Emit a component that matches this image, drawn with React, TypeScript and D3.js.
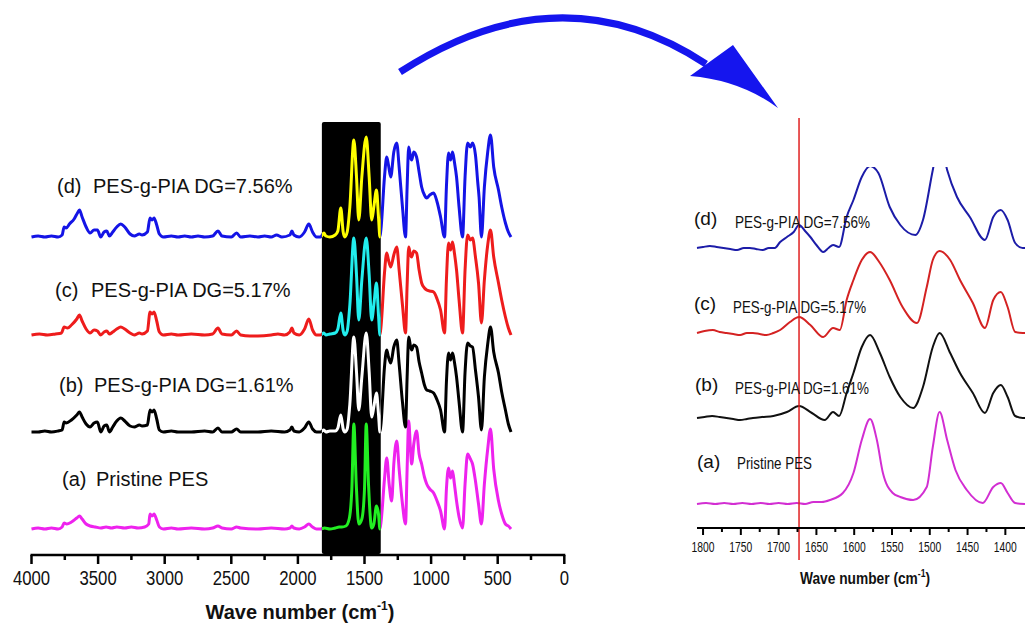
import React from "react";
import * as d3 from "d3";

type Pt = [number, number];

// ---------- Left panel (full range) : [wavenumber, relative intensity] ----------
const leftTicksMajor = [4000, 3500, 3000, 2500, 2000, 1500, 1000, 500, 0];
const leftTicksMinor = [3750, 3250, 2750, 2250, 1750, 1250, 750, 250];

const lowD: Pt[] = [[4000,0],[3950,0.01],[3900,0],[3850,0.01],[3800,0.0],[3770,0.02],[3755,0.1],[3740,0.09],[3715,0.13],[3680,0.18],[3655,0.24],[3640,0.27],[3620,0.2],[3590,0.1],[3560,0.04],[3530,0.07],[3505,0.07],[3480,0.0],[3455,0.05],[3435,0.06],[3415,0.01],[3390,0.05],[3360,0.1],[3330,0.13],[3300,0.1],[3260,0.03],[3228,0.01],[3190,0.03],[3170,0.02],[3130,0.05],[3110,0.19],[3095,0.17],[3080,0.19],[3060,0.12],[3040,0.03],[3010,0.0],[2950,0.01],[2900,0.0],[2850,0.01],[2800,0.0],[2750,0.01],[2700,0.0],[2640,0.01],[2600,0.06],[2570,0.01],[2500,0.0],[2460,0.04],[2430,0.0],[2360,0.01],[2300,0.0],[2250,0.01],[2200,0.0],[2160,0.02],[2120,0.0],[2060,0.02],[2045,0.06],[2030,0.02],[1990,0.0],[1950,0.05],[1918,0.13],[1890,0.05],[1860,0.0]];
const midD: Pt[] = [[1830,0.0],[1805,0.04],[1790,0.01],[1760,0.0],[1720,0.02],[1700,0.06],[1678,0.29],[1660,0.05],[1648,0.0],[1630,0.05],[1610,0.3],[1580,0.97],[1560,0.6],[1543,0.17],[1520,0.6],[1487,1.0],[1465,0.6],[1446,0.17],[1430,0.3],[1410,0.47],[1395,0.2],[1384,0.0]];
const highD: Pt[] = [[1375,0.1],[1350,0.6],[1333,0.8],[1320,0.72],[1303,0.6],[1280,0.85],[1258,0.94],[1240,0.7],[1215,0.3],[1192,0.0],[1180,0.5],[1168,0.9],[1155,0.8],[1146,0.77],[1130,0.85],[1109,0.8],[1090,0.65],[1071,0.5],[1050,0.42],[1033,0.39],[1010,0.42],[981,0.44],[955,0.35],[929,0.2],[899,0.0],[885,0.5],[869,0.84],[854,0.77],[839,0.85],[825,0.75],[809,0.6],[790,0.3],[764,0.0],[745,0.6],[726,0.94],[705,0.9],[689,0.94],[667,0.82],[650,0.55],[640,0.4],[622,0.0],[600,0.5],[575,0.85],[554,1.02],[530,0.7],[494,0.47],[470,0.3],[442,0.14],[420,0.05],[400,0.0]];

const lowC: Pt[] = [[4000,0],[3940,0.01],[3880,0],[3820,0.01],[3775,0.02],[3755,0.08],[3730,0.07],[3700,0.1],[3660,0.16],[3640,0.2],[3620,0.14],[3590,0.06],[3560,0.02],[3530,0.05],[3505,0.04],[3480,0.0],[3455,0.03],[3435,0.04],[3415,0.01],[3390,0.03],[3360,0.06],[3330,0.08],[3300,0.06],[3260,0.02],[3228,0.0],[3190,0.02],[3170,0.01],[3130,0.04],[3110,0.23],[3095,0.21],[3080,0.23],[3060,0.14],[3040,0.03],[3010,0.0],[2950,0.01],[2900,0.0],[2800,0.01],[2700,0.0],[2640,0.01],[2600,0.07],[2570,0.01],[2500,0.0],[2460,0.04],[2430,0.0],[2360,-0.01],[2300,-0.01],[2200,0.0],[2150,0.01],[2100,0.0],[2060,0.03],[2045,0.07],[2030,0.02],[1990,0.0],[1950,0.06],[1918,0.16],[1890,0.05],[1860,0.0]];
const midC: Pt[] = [[1830,0.0],[1805,0.02],[1790,0.0],[1760,0.01],[1720,0.02],[1700,0.06],[1678,0.22],[1660,0.04],[1648,0.0],[1630,0.04],[1610,0.3],[1580,0.97],[1560,0.6],[1543,0.15],[1520,0.55],[1487,0.97],[1465,0.6],[1446,0.15],[1430,0.3],[1410,0.52],[1395,0.2],[1384,0.0]];
const highC: Pt[] = [[1375,0.1],[1350,0.62],[1333,0.82],[1320,0.75],[1303,0.68],[1280,0.8],[1258,0.88],[1240,0.65],[1215,0.3],[1192,0.02],[1180,0.5],[1168,0.88],[1155,0.8],[1146,0.78],[1130,0.84],[1109,0.82],[1090,0.65],[1071,0.52],[1050,0.47],[1033,0.45],[1010,0.44],[981,0.43],[955,0.36],[929,0.25],[899,0.02],[885,0.55],[869,0.92],[854,0.85],[839,0.93],[825,0.82],[809,0.65],[790,0.35],[764,0.02],[745,0.65],[726,1.0],[705,0.95],[689,0.97],[667,0.78],[644,0.52],[622,0.12],[600,0.55],[575,0.9],[554,1.05],[530,0.78],[494,0.52],[470,0.35],[442,0.18],[420,0.07],[400,0.0]];

const lowB: Pt[] = [[4000,0],[3950,0.0],[3900,0.01],[3850,0],[3800,0.01],[3770,0.02],[3755,0.1],[3740,0.09],[3700,0.12],[3660,0.17],[3640,0.2],[3620,0.15],[3590,0.08],[3560,0.05],[3530,0.09],[3505,0.1],[3480,0.0],[3455,0.06],[3435,0.07],[3415,0.0],[3390,0.05],[3360,0.11],[3330,0.14],[3300,0.11],[3260,0.06],[3228,0.05],[3190,0.07],[3170,0.06],[3130,0.07],[3110,0.22],[3095,0.2],[3080,0.22],[3060,0.13],[3040,0.02],[3010,0.0],[2950,0.01],[2900,0.0],[2800,0.0],[2700,0.01],[2640,0.0],[2600,0.04],[2570,0.0],[2500,0.0],[2460,0.03],[2430,0.0],[2300,0.0],[2200,0.01],[2100,0.0],[2060,0.02],[2045,0.05],[2030,0.01],[1990,0.0],[1950,0.04],[1918,0.1],[1890,0.03],[1860,0.0]];
const midB: Pt[] = [[1830,0.0],[1805,0.02],[1790,0.0],[1760,0.01],[1720,0.01],[1700,0.04],[1678,0.17],[1660,0.03],[1648,0.0],[1630,0.03],[1610,0.28],[1580,0.95],[1560,0.6],[1543,0.22],[1520,0.55],[1487,0.99],[1465,0.6],[1446,0.15],[1430,0.25],[1410,0.39],[1395,0.18],[1384,0.0]];
const highB: Pt[] = [[1375,0.1],[1350,0.65],[1333,0.82],[1320,0.75],[1303,0.69],[1280,0.85],[1258,0.92],[1240,0.68],[1215,0.3],[1192,0.05],[1180,0.55],[1168,0.95],[1155,0.86],[1146,0.82],[1130,0.87],[1109,0.85],[1090,0.7],[1071,0.59],[1050,0.47],[1033,0.42],[1010,0.41],[981,0.39],[955,0.32],[929,0.22],[899,0.0],[885,0.5],[869,0.79],[854,0.72],[839,0.79],[825,0.7],[809,0.55],[790,0.3],[764,0.0],[745,0.6],[726,0.89],[705,0.86],[689,0.85],[667,0.62],[644,0.35],[622,0.02],[600,0.55],[575,0.88],[554,1.05],[530,0.8],[494,0.59],[470,0.4],[442,0.22],[420,0.08],[400,0.0]];

const lowA: Pt[] = [[4000,0],[3950,0.01],[3900,0.0],[3850,0.01],[3800,0.0],[3770,0.02],[3755,0.06],[3735,0.05],[3700,0.07],[3660,0.11],[3640,0.13],[3620,0.1],[3590,0.05],[3560,0.03],[3520,0.02],[3480,0.01],[3440,0.02],[3400,0.01],[3360,0.02],[3300,0.01],[3250,0.02],[3200,0.01],[3150,0.02],[3120,0.05],[3110,0.15],[3095,0.13],[3080,0.15],[3060,0.09],[3040,0.02],[3010,0.0],[2950,0.01],[2900,0.0],[2800,0.01],[2700,0.0],[2640,0.01],[2600,0.03],[2570,0.01],[2500,0.0],[2460,0.02],[2430,0.01],[2300,0.0],[2200,0.01],[2100,0.0],[2060,0.01],[2045,0.03],[2030,0.01],[1990,0.0],[1950,0.02],[1918,0.05],[1890,0.02],[1860,0.0]];
const midA: Pt[] = [[1830,0.0],[1800,0.01],[1760,0.0],[1720,0.01],[1690,0.02],[1670,0.02],[1640,0.03],[1615,0.1],[1595,0.4],[1580,1.05],[1562,0.45],[1543,0.05],[1520,0.1],[1500,0.4],[1487,1.05],[1470,0.45],[1446,0.01],[1430,0.05],[1410,0.23],[1395,0.15],[1384,0.0]];
const highA: Pt[] = [[1375,0.08],[1350,0.5],[1333,0.71],[1315,0.45],[1296,0.28],[1280,0.65],[1258,0.88],[1240,0.6],[1215,0.25],[1192,0.05],[1180,0.6],[1168,1.08],[1155,0.8],[1146,0.65],[1130,0.85],[1109,0.98],[1090,0.75],[1071,0.65],[1050,0.52],[1033,0.45],[1010,0.4],[981,0.36],[955,0.28],[929,0.18],[899,0.0],[885,0.4],[869,0.61],[854,0.51],[839,0.58],[825,0.45],[809,0.28],[790,0.12],[764,0.01],[745,0.45],[726,0.75],[705,0.7],[689,0.65],[667,0.48],[644,0.25],[622,0.05],[600,0.45],[575,0.8],[554,1.0],[530,0.6],[494,0.28],[470,0.15],[442,0.05],[420,0.03],[400,0.0]];

const leftOffsets = [0.26, 1.23, 2.2, 3.18];
const leftColors = ["#ee22ee", "#000000", "#ee1c1c", "#1414e6"];
const boxColors = ["#22ee22", "#ffffff", "#22eeee", "#ffff00"];
const leftLabelsTag = ["(a)", "(b)", "(c)", "(d)"];
const leftLabelsText = ["Pristine PES", "PES-g-PIA DG=1.61%", "PES-g-PIA DG=5.17%", "PES-g-PIA DG=7.56%"];
const boxRange = [1820, 1378];

// ---------- Right panel (zoom 1808-1374) ----------
const rightTicksMajor = [1800, 1750, 1700, 1650, 1600, 1550, 1500, 1450, 1400];
const rightTicksMinor = [1775, 1725, 1675, 1625, 1575, 1525, 1475, 1425];
const markerLine = 1673;

const zoomD: Pt[] = [[1808,0],[1800,0.01],[1791,0.02],[1782,0.01],[1773,0.0],[1764,-0.01],[1755,-0.02],[1746,0.0],[1738,0.0],[1730,-0.01],[1721,-0.02],[1713,0.0],[1705,0.0],[1698,0.06],[1689,0.11],[1680,0.16],[1673,0.23],[1665,0.17],[1658,0.11],[1650,0.03],[1641,-0.04],[1634,0.0],[1628,0.03],[1620,0.01],[1610,0.31],[1601,0.48],[1590,0.71],[1579,0.82],[1568,0.75],[1553,0.41],[1539,0.23],[1519,0.13],[1509,0.28],[1496,0.78],[1487,1.1],[1477,0.78],[1464,0.51],[1447,0.31],[1427,0.08],[1416,0.31],[1406,0.38],[1397,0.28],[1387,0.05],[1377,0.0],[1374,0.0]];
const zoomC: Pt[] = [[1808,0],[1798,0.02],[1787,0.03],[1778,0.01],[1769,0.0],[1760,-0.01],[1751,-0.02],[1742,0.0],[1734,0.0],[1725,-0.01],[1716,-0.02],[1707,0.0],[1698,0.03],[1685,0.11],[1673,0.16],[1658,0.08],[1641,-0.04],[1628,0.05],[1619,0.03],[1610,0.33],[1601,0.53],[1590,0.73],[1579,0.81],[1566,0.7],[1553,0.53],[1536,0.26],[1517,0.1],[1504,0.46],[1496,0.73],[1487,0.82],[1473,0.73],[1460,0.53],[1443,0.3],[1427,0.05],[1416,0.33],[1406,0.41],[1397,0.26],[1387,0.01],[1377,0.0],[1374,0.0]];
const zoomB: Pt[] = [[1808,0],[1798,0.01],[1788,0.02],[1778,0.01],[1769,0.0],[1760,-0.01],[1751,-0.02],[1742,-0.01],[1734,0.0],[1722,0.01],[1707,0.02],[1689,0.06],[1673,0.12],[1656,0.05],[1639,-0.02],[1628,0.06],[1620,0.02],[1610,0.25],[1601,0.45],[1590,0.71],[1579,0.83],[1566,0.65],[1553,0.41],[1539,0.21],[1522,0.1],[1509,0.31],[1496,0.71],[1487,0.85],[1473,0.65],[1460,0.45],[1443,0.25],[1427,0.05],[1416,0.25],[1406,0.33],[1397,0.21],[1387,0.02],[1377,0.0],[1374,0.0]];
const zoomA: Pt[] = [[1808,0],[1796,0.01],[1784,0.0],[1772,0.01],[1760,0.0],[1748,0.01],[1736,0.0],[1724,0.01],[1712,0.0],[1700,0.01],[1688,0.0],[1676,0.01],[1665,0.0],[1654,0.02],[1643,0.02],[1632,0.04],[1615,0.11],[1601,0.31],[1590,0.64],[1579,0.85],[1570,0.64],[1562,0.31],[1549,0.11],[1539,0.07],[1522,0.04],[1504,0.17],[1496,0.57],[1487,0.92],[1477,0.64],[1466,0.34],[1451,0.14],[1430,0.01],[1416,0.17],[1406,0.21],[1397,0.11],[1387,0.01],[1374,0.0]];
const rightOffsets = [0.24, 1.1, 1.95, 2.8];
const rightColors = ["#d22ed2", "#111111", "#d42222", "#1c1ca8"];

const leftSeries = [
  [...lowA, ...midA, ...highA],
  [...lowB, ...midB, ...highB],
  [...lowC, ...midC, ...highC],
  [...lowD, ...midD, ...highD],
];
const rightSeries = [zoomA, zoomB, zoomC, zoomD];

const W = 1025, H = 627;
const FONT = "'Liberation Sans', Arial, Helvetica, sans-serif";

export default function App() {
  const xL = d3.scaleLinear().domain([4000, 0]).range([31.5, 564.3]);
  const yL = d3.scaleLinear().domain([0, 4.4]).range([555, 115]);
  const xR = d3.scaleLinear().domain([1808, 1374]).range([697, 1025]);
  const yR = d3.scaleLinear().domain([0, 4]).range([528, 128]);

  const lineL = (off: number) =>
    d3.line<Pt>().x((d) => xL(d[0])).y((d) => yL(d[1] + off)).curve(d3.curveMonotoneX);
  const lineR = (off: number) =>
    d3.line<Pt>().x((d) => xR(d[0])).y((d) => yR(d[1] + off)).curve(d3.curveMonotoneX);

  const axisYL = yL(0);
  const axisYR = yR(0);
  const boxX0 = xL(boxRange[0]);
  const boxX1 = xL(boxRange[1]);

  const labelPosL = [
    { tx: 62, px: 96, y: 486 },
    { tx: 59, px: 94, y: 392 },
    { tx: 55, px: 91, y: 297 },
    { tx: 57, px: 93, y: 193 },
  ];
  const labelPosR = [
    { tx: 697, px: 737, yt: 468, yp: 469, w: 75 },
    { tx: 695, px: 735, yt: 391, yp: 394, w: 134 },
    { tx: 694, px: 733, yt: 310, yp: 313, w: 133 },
    { tx: 694, px: 735, yt: 225, yp: 228, w: 135 },
  ];

  return (
    <svg width={W} height={H} style={{ position: "absolute", left: 0, top: 0, background: "#fff" }} fontFamily={FONT}>
      <defs>
        <clipPath id="boxclip">
          <rect x={boxX0} y={120} width={boxX1 - boxX0} height={axisYL - 121} />
        </clipPath>
        <clipPath id="rclip">
          <rect x={690} y={167} width={340} height={380} />
        </clipPath>
      </defs>
      <rect width={W} height={H} fill="#fff" />

      {/* Left spectra */}
      {leftSeries.map((s, i) => (
        <path key={"l" + i} d={lineL(leftOffsets[i])(s) || ""} fill="none" stroke={leftColors[i]} strokeWidth={3} strokeLinejoin="round" />
      ))}
      <rect x={boxX0} y={122} width={boxX1 - boxX0} height={axisYL - 123} rx={2} fill="#000" />
      <g clipPath="url(#boxclip)">
        {leftSeries.map((s, i) => (
          <path key={"b" + i} d={lineL(leftOffsets[i])(s) || ""} fill="none" stroke={boxColors[i]} strokeWidth={3} strokeLinejoin="round" />
        ))}
      </g>

      {/* Left axis */}
      <line x1={xL(4000) - 1} x2={xL(0) + 1} y1={axisYL} y2={axisYL} stroke="#000" strokeWidth={2.5} />
      {leftTicksMajor.map((t) => (
        <g key={"lt" + t}>
          <line x1={xL(t)} x2={xL(t)} y1={axisYL} y2={axisYL + 9} stroke="#000" strokeWidth={2.5} />
          <text x={xL(t)} y={585} fontSize={20} textAnchor="middle" fill="#111"
            textLength={String(t).length * 9.3} lengthAdjust="spacingAndGlyphs">{t}</text>
        </g>
      ))}
      {leftTicksMinor.map((t) => (
        <line key={"lm" + t} x1={xL(t)} x2={xL(t)} y1={axisYL} y2={axisYL + 5} stroke="#000" strokeWidth={2.5} />
      ))}
      <text x={300} y={619} fontSize={20} fontWeight="bold" textAnchor="middle" fill="#111">
        Wave number (cm<tspan fontSize={12} dy={-9}>-1</tspan><tspan dy={9}>)</tspan>
      </text>

      {/* Left labels */}
      {leftLabelsTag.map((tag, i) => (
        <g key={"ll" + i} fontSize={20} fill="#111">
          <text x={labelPosL[i].tx} y={labelPosL[i].y}>{tag}</text>
          <text x={labelPosL[i].px} y={labelPosL[i].y}>{leftLabelsText[i]}</text>
        </g>
      ))}

      {/* Arrow */}
      <path d="M400,72 Q560,-32 706,64" fill="none" stroke="#1515ee" strokeWidth={7} />
      <path d="M733,45 L690,76 Q740,80 778,108 Z" fill="#1515ee" />

      {/* Right spectra */}
      <g clipPath="url(#rclip)">
        {rightSeries.map((s, i) => (
          <path key={"r" + i} d={lineR(rightOffsets[i])(s) || ""} fill="none" stroke={rightColors[i]} strokeWidth={2} strokeLinejoin="round" />
        ))}
      </g>
      <line x1={xR(markerLine)} x2={xR(markerLine)} y1={118} y2={560} stroke="#e02020" strokeWidth={1.5} />

      {/* Right labels */}
      {leftLabelsTag.map((tag, i) => (
        <g key={"rl" + i} fill="#111">
          <text x={labelPosR[i].tx} y={labelPosR[i].yt} fontSize={19}>{tag}</text>
          <text x={labelPosR[i].px} y={labelPosR[i].yp} fontSize={17} textLength={labelPosR[i].w} lengthAdjust="spacingAndGlyphs">{leftLabelsText[i]}</text>
        </g>
      ))}

      {/* Right axis */}
      <line x1={xR(1808)} x2={W} y1={axisYR} y2={axisYR} stroke="#000" strokeWidth={2} />
      {rightTicksMajor.map((t) => (
        <g key={"rt" + t}>
          <line x1={xR(t)} x2={xR(t)} y1={axisYR} y2={axisYR + 7} stroke="#000" strokeWidth={2} />
          <text x={xR(t)} y={552} fontSize={14} textAnchor="middle" fill="#111" textLength={23} lengthAdjust="spacingAndGlyphs">{t}</text>
        </g>
      ))}
      {rightTicksMinor.map((t) => (
        <line key={"rm" + t} x1={xR(t)} x2={xR(t)} y1={axisYR} y2={axisYR + 4} stroke="#000" strokeWidth={2} />
      ))}
      <g transform="translate(865,584) scale(0.86,1)">
        <text x={0} y={0} fontSize={16} textAnchor="middle" fill="#111" fontWeight={600}>
          Wave number (cm<tspan fontSize={10} dy={-7}>-1</tspan><tspan dy={7}>)</tspan>
        </text>
      </g>
    </svg>
  );
}
